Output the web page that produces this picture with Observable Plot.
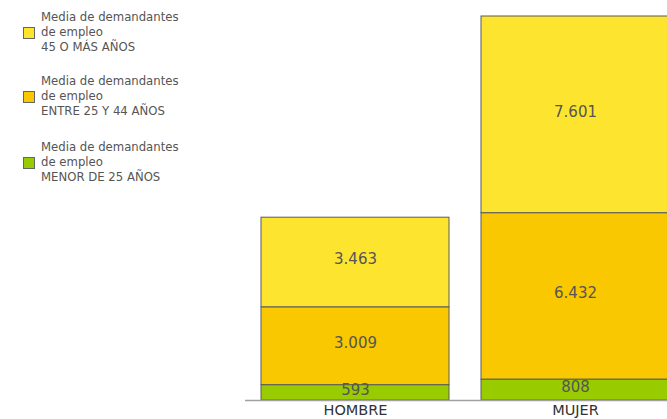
<!DOCTYPE html>
<html>
<head>
<meta charset="utf-8">
<script src="https://cdn.jsdelivr.net/npm/d3@7"></script>
<script src="https://cdn.jsdelivr.net/npm/@observablehq/plot@0.6"></script>
<style>
  html, body { margin: 0; padding: 0; background: #fff; overflow: hidden; }
  #wrap { position: relative; width: 667px; height: 419px; }
  #legend { position: absolute; left: 0; top: 0; font-family: "DejaVu Sans", sans-serif; font-size: 11.7px; color: #555; }
  .item { position: absolute; left: 0; width: 200px; }
  .sw { position: absolute; left: 23px; width: 10px; height: 10px; border: 1px solid #666; }
  .txt { position: absolute; left: 41px; line-height: 15px; white-space: nowrap; }
</style>
</head>
<body>
<div id="wrap"><div id="chart"></div><div id="legend"></div></div>
<script>
const sexos = ["HOMBRE", "MUJER"];
const grupos = ["MENOR DE 25 AÑOS", "ENTRE 25 Y 44 AÑOS", "45 O MÁS AÑOS"];
const hombre = [593, 3009, 3463];
const mujer = [808, 6432, 7601];
const colores = ["#99CC00", "#F9C800", "#FDE42E"];
const legendLines = ["Media de demandantes", "de empleo"];

const data = [];
sexos.forEach((s, i) => {
  const vals = i === 0 ? hombre : mujer;
  grupos.forEach((g, j) => data.push({sexo: s, grupo: g, valor: vals[j]}));
});

const fmt = d3.formatLocale({decimal: ",", thousands: ".", grouping: [3], currency: ["", " €"]}).format(",");
const total = d3.max(sexos, (s) => d3.sum(data.filter(d => d.sexo === s), d => d.valor));

const chart = Plot.plot({
  width: 667,
  height: 419,
  marginTop: 16,
  marginBottom: 19,
  marginLeft: 245,
  marginRight: 0,
  style: {fontFamily: "DejaVu Sans, sans-serif", background: "#fff"},
  x: {domain: sexos, range: [245, 685], paddingInner: 32 / 220, paddingOuter: 16 / 220, axis: null},
  y: {domain: [0, total], axis: null},
  color: {domain: grupos, range: colores},
  marks: [
    Plot.barY(data, Plot.stackY({x: "sexo", y: "valor", fill: "grupo", order: grupos, stroke: "#5a5a5a", strokeWidth: 1, inset: 0})),
    Plot.ruleY([0], {stroke: "#a0a0a0", strokeWidth: 1.5}),
    Plot.text(data, Plot.stackY({x: "sexo", y: "valor", z: "grupo", order: grupos, text: d => fmt(d.valor), fill: "#555", fontSize: 15, dy: -3})),
    Plot.text(sexos, {x: d => d, y: d => 0, text: d => d, dy: 10, fill: "#333", fontSize: 14.5})
  ]
});
document.getElementById("chart").appendChild(chart);

const legend = document.getElementById("legend");
const tops = [10, 74, 140];
grupos.slice().reverse().forEach((g, i) => {
  const item = document.createElement("div");
  item.className = "item";
  item.style.top = tops[i] + "px";
  const sw = document.createElement("div");
  sw.className = "sw";
  sw.style.top = "17px";
  sw.style.background = colores[grupos.length - 1 - i];
  const txt = document.createElement("div");
  txt.className = "txt";
  txt.innerHTML = legendLines.concat([g]).join("<br>");
  item.appendChild(sw);
  item.appendChild(txt);
  legend.appendChild(item);
});
</script>
</body>
</html>
